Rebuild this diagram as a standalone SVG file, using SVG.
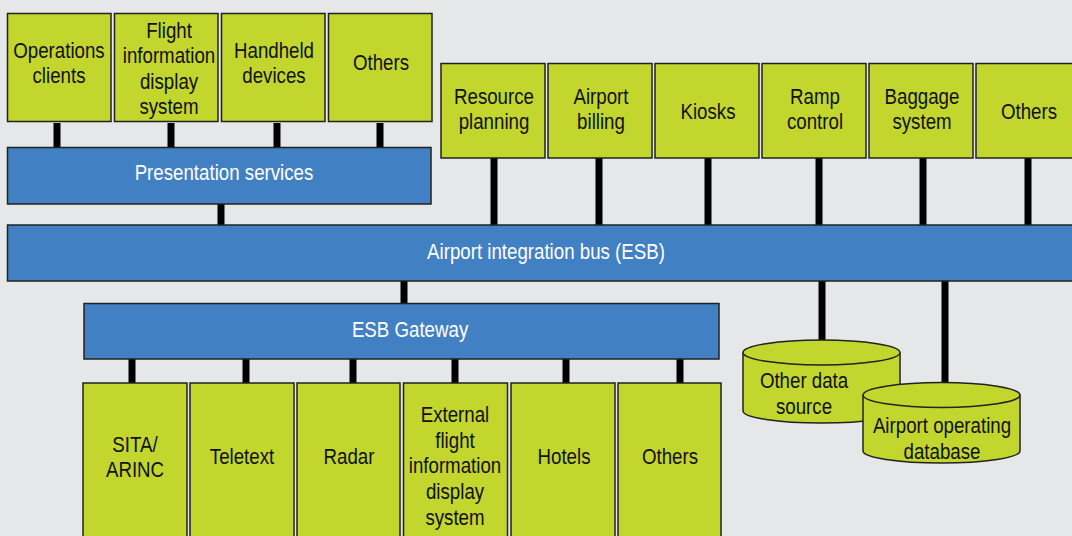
<svg xmlns="http://www.w3.org/2000/svg" width="1072" height="536" viewBox="0 0 1072 536">
<style>
.bg{fill:#e6e7e9}
.g{fill:#c2d62e;stroke:#222;stroke-width:1.5}
.b{fill:#4280c4;stroke:#222;stroke-width:1.5}
.t{font-family:"Liberation Sans",Arial,sans-serif;font-size:22px;fill:#111;text-anchor:middle;transform-box:fill-box;transform-origin:center;transform:scaleX(0.85)}
.w{fill:#fff}
.c{stroke:#000;stroke-width:7;fill:none}
</style>
<rect class="bg" x="0" y="0" width="1072" height="536"/>
<g id="connectors">
<line class="c" x1="57" y1="123" x2="57" y2="147"/>
<line class="c" x1="171" y1="123" x2="171" y2="147"/>
<line class="c" x1="277" y1="123" x2="277" y2="147"/>
<line class="c" x1="380" y1="123" x2="380" y2="147"/>
<line class="c" x1="221" y1="204" x2="221" y2="225"/>
<line class="c" x1="494" y1="158" x2="494" y2="225"/>
<line class="c" x1="599" y1="158" x2="599" y2="225"/>
<line class="c" x1="708" y1="158" x2="708" y2="225"/>
<line class="c" x1="819" y1="158" x2="819" y2="225"/>
<line class="c" x1="923" y1="158" x2="923" y2="225"/>
<line class="c" x1="1028" y1="158" x2="1028" y2="225"/>
<line class="c" x1="404" y1="281" x2="404" y2="303"/>
<line class="c" x1="822" y1="281" x2="822" y2="341"/>
<line class="c" x1="945" y1="281" x2="945" y2="383"/>
<line class="c" x1="132" y1="359" x2="132" y2="383"/>
<line class="c" x1="246" y1="359" x2="246" y2="383"/>
<line class="c" x1="353" y1="359" x2="353" y2="383"/>
<line class="c" x1="455" y1="359" x2="455" y2="383"/>
<line class="c" x1="566" y1="359" x2="566" y2="383"/>
<line class="c" x1="680" y1="359" x2="680" y2="383"/>
</g>
<g id="operations-clients"><rect class="g" x="7.5" y="13.5" width="103.5" height="108"/><text class="t" x="59" y="58">Operations</text><text class="t" x="59" y="83">clients</text></g>
<g id="fids"><rect class="g" x="114.5" y="13.5" width="103.5" height="108"/><text class="t" x="169" y="38">Flight</text><text class="t" x="169" y="63">information</text><text class="t" x="169" y="89">display</text><text class="t" x="169" y="114">system</text></g>
<g id="handheld"><rect class="g" x="221.5" y="13.5" width="103.5" height="108"/><text class="t" x="274" y="58">Handheld</text><text class="t" x="274" y="83">devices</text></g>
<g id="others-top"><rect class="g" x="328.5" y="13.5" width="103.5" height="108"/><text class="t" x="381" y="70">Others</text></g>
<g id="presentation"><rect class="b" x="7.5" y="147.5" width="423.5" height="56.5"/><text class="t w" x="224" y="180">Presentation services</text></g>
<g id="resource-planning"><rect class="g" x="441" y="63.5" width="104" height="94.5"/><text class="t" x="494" y="104">Resource</text><text class="t" x="494" y="129">planning</text></g>
<g id="airport-billing"><rect class="g" x="548" y="63.5" width="104" height="94.5"/><text class="t" x="601" y="104">Airport</text><text class="t" x="601" y="129">billing</text></g>
<g id="kiosks"><rect class="g" x="655" y="63.5" width="104" height="94.5"/><text class="t" x="708" y="119">Kiosks</text></g>
<g id="ramp-control"><rect class="g" x="762" y="63.5" width="104" height="94.5"/><text class="t" x="815" y="104">Ramp</text><text class="t" x="815" y="129">control</text></g>
<g id="baggage"><rect class="g" x="869" y="63.5" width="104" height="94.5"/><text class="t" x="922" y="104">Baggage</text><text class="t" x="922" y="129">system</text></g>
<g id="others-right"><rect class="g" x="976" y="63.5" width="110" height="94.5"/><text class="t" x="1029" y="119">Others</text></g>
<g id="esb"><rect class="b" x="7.5" y="225" width="1080" height="56"/><text class="t w" x="546" y="259">Airport integration bus (ESB)</text></g>
<g id="esb-gateway"><rect class="b" x="84" y="303.5" width="635" height="55.5"/><text class="t w" x="410" y="337">ESB Gateway</text></g>
<g id="sita"><rect class="g" x="83" y="383" width="104" height="170"/><text class="t" x="135" y="452">SITA/</text><text class="t" x="135" y="477">ARINC</text></g>
<g id="teletext"><rect class="g" x="190" y="383" width="104" height="170"/><text class="t" x="242" y="464">Teletext</text></g>
<g id="radar"><rect class="g" x="297" y="383" width="103" height="170"/><text class="t" x="349" y="464">Radar</text></g>
<g id="external-fids"><rect class="g" x="403.5" y="383" width="104" height="170"/><text class="t" x="455" y="422">External</text><text class="t" x="455" y="448">flight</text><text class="t" x="455" y="473">information</text><text class="t" x="455" y="499">display</text><text class="t" x="455" y="525">system</text></g>
<g id="hotels"><rect class="g" x="511" y="383" width="104" height="170"/><text class="t" x="564" y="464">Hotels</text></g>
<g id="others-bottom"><rect class="g" x="618" y="383" width="103" height="170"/><text class="t" x="670" y="464">Others</text></g>
<g id="other-data-source"><path class="g" d="M743,352.5 V411 A78.5,12 0 0 0 900,411 V352.5"/><ellipse class="g" cx="821.5" cy="352.5" rx="78.5" ry="12.5"/><text class="t" x="804" y="388">Other data</text><text class="t" x="804" y="414">source</text></g>
<g id="airport-operating-database"><path class="g" d="M863,395 V451 A78.5,12 0 0 0 1020,451 V395"/><ellipse class="g" cx="941.5" cy="395" rx="78.5" ry="12.5"/><text class="t" x="942" y="433">Airport operating</text><text class="t" x="942" y="459">database</text></g>
</svg>
